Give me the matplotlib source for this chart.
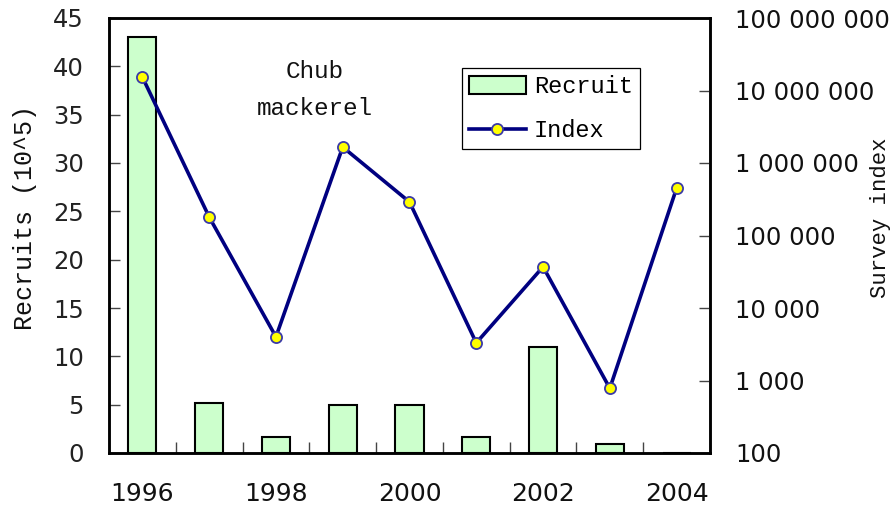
import matplotlib
matplotlib.use("Agg")
import matplotlib.pyplot as plt
from matplotlib.ticker import FixedLocator, FixedFormatter
import numpy as np

years = [1996, 1997, 1998, 1999, 2000, 2001, 2002, 2003, 2004]
recruits = [43.0, 5.2, 1.7, 5.0, 5.0, 1.7, 11.0, 0.9, 0.0]
survey_index = [1.53e7, 1.8e5, 4.0e3, 1.66e6, 2.9e5, 3.3e3, 3.7e4, 780, 4.5e5]
left_ticks = [0, 5, 10, 15, 20, 25, 30, 35, 40, 45]
right_ticks = [1e2, 1e3, 1e4, 1e5, 1e6, 1e7, 1e8]
right_labels = ["100", "1 000", "10 000", "100 000", "1 000 000", "10 000 000", "100 000 000"]
x_labels = ["1996", "", "1998", "", "2000", "", "2002", "", "2004"]

mono = "Liberation Mono"
fig = plt.figure(figsize=(8.95, 5.12), dpi=100)
ax = fig.add_axes([109/895, 59/512, (710-109)/895, (453-18)/512])
x = np.arange(len(years))
bars = ax.bar(x, recruits, width=0.42, color="#CCFFCC", edgecolor="black",
              linewidth=1.5, label="Recruit", zorder=2)
ax.set_xlim(-0.5, len(years) - 0.5)
ax.set_ylim(0, 45)
ax.set_yticks(left_ticks)
ax.set_xticks(x)
ax.set_xticklabels(x_labels)
ax.set_xticks(np.arange(0.5, len(years) - 0.5, 1), minor=True)
ax.tick_params(axis="x", which="major", length=0, pad=21, labelsize=18, labelcolor="#111")
ax.tick_params(axis="x", which="minor", direction="in", length=8, width=1, color="#444")
ax.tick_params(axis="y", direction="in", length=8, width=1, color="#444", pad=18,
               labelsize=17.5, labelcolor="#222")
for s in ax.spines.values():
    s.set_linewidth(1.8)

ax2 = ax.twinx()
line, = ax2.plot(x, survey_index, color="#000080", linewidth=2.6, marker="o",
                 markersize=8, markerfacecolor="#FFFF00", markeredgecolor="#3a3aa8",
                 markeredgewidth=1.3, label="Index", zorder=3)
ax2.set_yscale("log")
ax2.set_ylim(1e2, 1e8)
ax2.yaxis.set_major_locator(FixedLocator(right_ticks))
ax2.yaxis.set_major_formatter(FixedFormatter(right_labels))
ax2.yaxis.set_minor_locator(FixedLocator([]))
ax2.tick_params(axis="y", direction="in", length=8, width=1, color="#444", pad=18,
                labelsize=17.5, labelcolor="#111")
for s in ax2.spines.values():
    s.set_linewidth(1.8)

fig.text(25/895, 1 - 217/512, "Recruits (10^5)", rotation=90, ha="center", va="center",
         fontsize=18, family=mono, color="#111")
fig.text(881/895, 1 - 218/512, "Survey index", rotation=90, ha="center", va="center",
         fontsize=16, family=mono, color="#111")
fig.text(315/895, 1 - 90/512, "Chub\nmackerel", ha="center", va="center",
         fontsize=17.5, family=mono, color="#111", linespacing=1.75)

leg = ax2.legend([bars, line], ["Recruit", "Index"], loc="upper left",
                 bbox_to_anchor=(462/895, 1 - 68/512), bbox_transform=fig.transFigure,
                 prop={"family": mono, "size": 17}, frameon=True, fancybox=False,
                 edgecolor="black", framealpha=1, borderpad=0.3, labelspacing=0.9,
                 handlelength=2.4, handletextpad=0.35, borderaxespad=0, handleheight=0.8)
leg.get_frame().set_linewidth(0.9)

fig.savefig("out.png", dpi=100)
